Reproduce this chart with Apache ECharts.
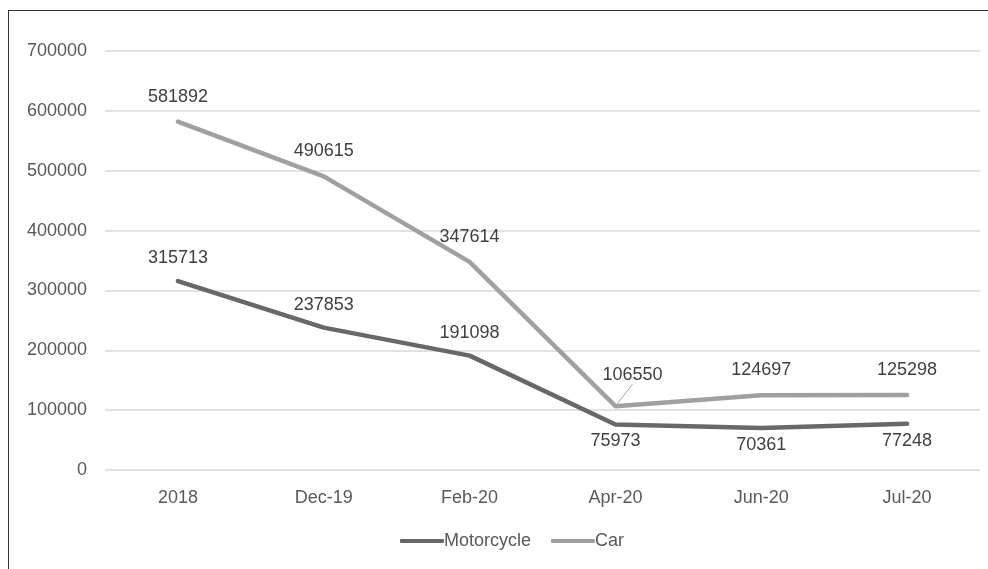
<!DOCTYPE html>
<html>
<head>
<meta charset="utf-8">
<script src="https://cdn.jsdelivr.net/npm/echarts@6/dist/echarts.min.js"></script>
<style>
  html, body { margin: 0; padding: 0; background: #fff; overflow: hidden; }
  #frame {
    position: absolute; left: 8px; top: 10px; width: 1100px; height: 700px;
    border-left: 1.5px solid #333; border-top: 1.5px solid #333;
  }
  #chart { position: absolute; left: 0; top: 0; width: 988px; height: 569px; }
</style>
</head>
<body>
<div id="frame"></div>
<div id="chart"></div>
<script>
// 数据
const categories = ['2018', 'Dec-19', 'Feb-20', 'Apr-20', 'Jun-20', 'Jul-20'];
const motorcycle = [315713, 237853, 191098, 75973, 70361, 77248];
const car = [581892, 490615, 347614, 106550, 124697, 125298];
const motoLabelPos = ['top', 'top', 'top', 'bottom', 'bottom', 'bottom'];

const chart = echarts.init(document.getElementById('chart'));

const labelFont = { fontFamily: 'Liberation Sans', fontSize: 18, color: '#404040' };

const option = {
  animation: false,
  grid: { left: 105, right: 8, top: 51, bottom: 99 },
  legend: {
    bottom: 14,
    left: 395,
    itemWidth: 44,
    itemHeight: 4,
    itemGap: 20,
    icon: 'roundRect',
    textStyle: { fontFamily: 'Liberation Sans', fontSize: 18, color: '#595959', padding: [0, 0, 0, -5] },
    data: ['Motorcycle', 'Car']
  },
  xAxis: {
    type: 'category',
    data: categories,
    boundaryGap: true,
    axisLine: { show: false },
    axisTick: { show: false },
    axisLabel: { fontFamily: 'Liberation Sans', fontSize: 18, color: '#595959', margin: 19 }
  },
  yAxis: {
    type: 'value',
    min: 0,
    max: 700000,
    interval: 100000,
    axisLabel: {
      fontFamily: 'Liberation Sans', fontSize: 18, color: '#595959', margin: 18,
      formatter: (v) => String(v)
    },
    splitLine: { lineStyle: { color: '#d9d9d9', width: 1.5 } }
  },
  series: [
    {
      name: 'Motorcycle',
      type: 'line',
      data: motorcycle.map((v, i) => ({
        value: v,
        label: { position: motoLabelPos[i], distance: motoLabelPos[i] === 'top' ? 14 : 8 }
      })),
      symbol: 'circle',
      symbolSize: 0.01,
      lineStyle: { color: '#686868', width: 4.5, cap: 'round' },
      itemStyle: { color: '#686868' },
      label: { show: true, ...labelFont }
    },
    {
      name: 'Car',
      type: 'line',
      data: car.map((v, i) => ({
        value: v,
        labelLine: { show: i === 3 }
      })),
      symbol: 'circle',
      symbolSize: 0.01,
      lineStyle: { color: '#a0a0a0', width: 4.5, cap: 'round' },
      itemStyle: { color: '#a0a0a0' },
      label: { show: true, position: 'top', distance: 16, ...labelFont },
      labelLine: { show: false, lineStyle: { color: '#a6a6a6', width: 1 } },
      labelLayout: function (params) {
        if (params.dataIndex === 3) {
          return { dx: 17, dy: -6 };
        }
        return {};
      }
    }
  ]
};

chart.setOption(option);
</script>
</body>
</html>
